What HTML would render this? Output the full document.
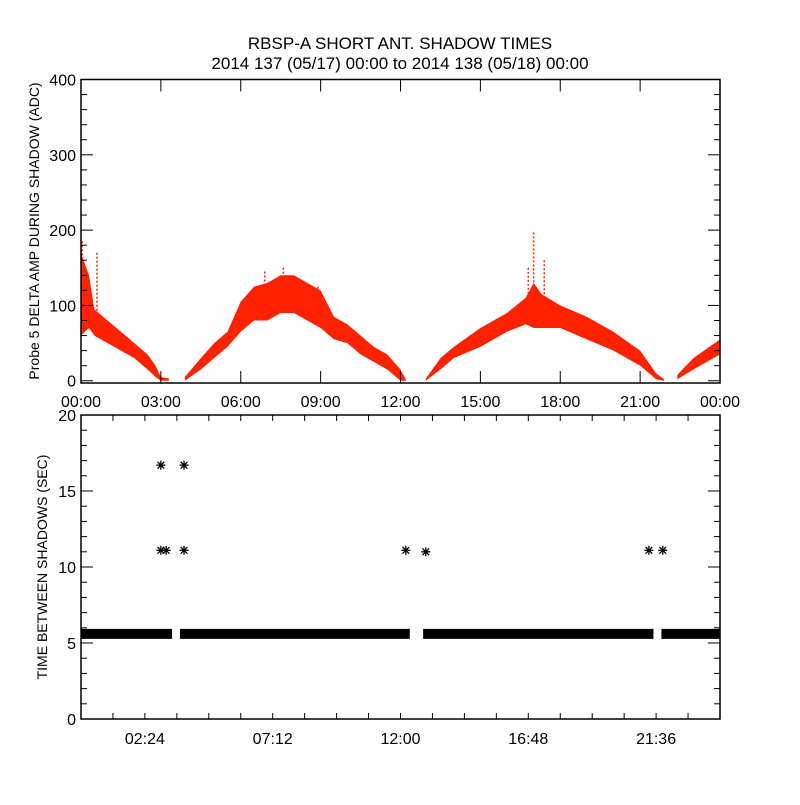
<!DOCTYPE html>
<html><head><meta charset="utf-8"><style>
body{margin:0;background:#fff;}
svg text{font-family:"Liberation Sans",sans-serif;fill:#000;}
</style></head><body>
<svg id="chart" width="800" height="800" viewBox="0 0 800 800" xmlns="http://www.w3.org/2000/svg">
<rect width="800" height="800" fill="#fff"/>
<text x="400" y="49" font-size="17" text-anchor="middle">RBSP-A SHORT ANT. SHADOW TIMES</text>
<text x="400" y="69" font-size="17" text-anchor="middle">2014 137 (05/17) 00:00 to 2014 138 (05/18) 00:00</text>
<g id="topPanel"></g>
<g id="botPanel"></g>
</svg>
<script>
// Top panel: amplitude bands (hours, low, high); null breaks segments
const ampHours = [0,0.3,0.5,1,1.5,2,2.5,2.8,3.0,3.3,null,3.9,4.5,5,5.5,6,6.5,7,7.5,8,8.5,9,9.5,10,10.5,11,11.5,12,12.2,null,12.95,13.5,14,15,16,16.7,17,17.3,18,19,20,21,21.6,21.9,null,22.4,23,24];
const ampLow  = [60,70,60,50,40,30,15,5,0,0,null,0,15,30,45,65,80,80,90,90,80,70,55,50,35,25,15,0,0,null,0,15,30,45,65,75,70,70,70,55,40,20,2,0,null,2,15,35];
const ampHigh = [170,140,95,80,65,50,35,20,5,3,null,5,30,50,65,105,125,130,140,140,130,120,85,75,60,45,35,15,2,null,3,30,45,70,90,110,130,115,100,85,65,40,10,2,null,8,30,55];
const spikeHours = [0.05,0.6,6.9,7.6,8.9,16.8,17.0,17.4];
const spikeValues = [185,170,145,150,125,150,197,160];
const topXTicks = ["00:00","03:00","06:00","09:00","12:00","15:00","18:00","21:00","00:00"];
const topYTicks = [0,100,200,300,400];
// Bottom panel
const bandGapsStart = [3.42,12.35,21.5];
const bandGapsEnd = [3.72,12.85,21.8];
const bandValue = 5.6;
const outlierHours = [3.0,3.0,3.2,3.87,3.87,12.2,12.95,21.33,21.85];
const outlierValues = [16.7,11.1,11.1,16.7,11.1,11.1,11.0,11.1,11.1];
const botXTicks = ["02:24","07:12","12:00","16:48","21:36"];
const botYTicks = [0,5,10,15,20];

const NS="http://www.w3.org/2000/svg";
function mk(p,t,a){const e=document.createElementNS(NS,t);for(const k in a)e.setAttribute(k,a[k]);p.appendChild(e);return e;}
const X0=81,X1=720;
const xs=h=>X0+(X1-X0)*h/24;
// top
const T0=79.5,T1=383, tMin=-3,tMax=400;
const ty=v=>T1-(v-tMin)/(tMax-tMin)*(T1-T0);
const topG=document.getElementById('topPanel');
let segs=[],cur=[];
for(let i=0;i<ampHours.length;i++){if(ampHours[i]===null){segs.push(cur);cur=[];}else cur.push(i);}
segs.push(cur);
segs.forEach((s,k)=>{
  const up=s.map(i=>xs(ampHours[i])+','+ty(ampHigh[i]));
  const dn=s.slice().reverse().map(i=>xs(ampHours[i])+','+ty(ampLow[i]));
  const p=mk(topG,'polygon',{points:up.concat(dn).join(' '),fill:'#ff2200'});
  
  
});
spikeHours.forEach((h,i)=>{
  const l=mk(topG,'line',{x1:xs(h),x2:xs(h),y1:ty(spikeValues[i]),y2:ty(90),stroke:'#ff2200','stroke-width':1.5,'stroke-dasharray':'2 2'});
  
  
});
const tb=mk(topG,'rect',{x:X0,y:T0,width:X1-X0,height:T1-T0,fill:'none',stroke:'#000','stroke-width':1.5});


for(let v=0;v<=400;v+=20){const L=v%100===0?12:6;
  mk(topG,'line',{x1:X0,x2:X0+L,y1:ty(v),y2:ty(v),stroke:'#000'});
  mk(topG,'line',{x1:X1,x2:X1-L,y1:ty(v),y2:ty(v),stroke:'#000'});}
topYTicks.forEach(v=>{const t=mk(topG,'text',{x:76,y:ty(v)+6,'font-size':16,'text-anchor':'end'});t.textContent=v;
  
  });
topXTicks.forEach((s,i)=>{const x=xs(i*3);
  mk(topG,'line',{x1:x,x2:x,y1:T1,y2:T1-12,stroke:'#000'});
  mk(topG,'line',{x1:x,x2:x,y1:T0,y2:T0+12,stroke:'#000'});
  const t=mk(topG,'text',{x:x,y:407,'font-size':16,'text-anchor':'middle'});t.textContent=s;
  
  });
const yl=mk(topG,'text',{x:0,y:0,'font-size':14,'text-anchor':'middle',transform:'translate(39,231) rotate(-90)'});
yl.textContent='Probe 5 DELTA AMP DURING SHADOW (ADC)';


// bottom
const B0=415,B1=719;
const by=v=>B1-v/20*(B1-B0);
const botG=document.getElementById('botPanel');
let starts=[0].concat(bandGapsEnd), ends=bandGapsStart.concat([24]);
starts.forEach((s,i)=>{
  const r=mk(botG,'rect',{x:xs(s),y:by(bandValue)-5,width:xs(ends[i])-xs(s),height:10,fill:'#000'});
  
  
});
outlierHours.forEach((h,i)=>{
  const cx=xs(h), cy=by(outlierValues[i]), r=4.5;
  const g=mk(botG,'g',{stroke:'#000','stroke-width':1.3});
  
  
  mk(g,'line',{x1:cx-r,x2:cx+r,y1:cy,y2:cy});
  mk(g,'line',{x1:cx,x2:cx,y1:cy-r,y2:cy+r});
  mk(g,'line',{x1:cx-r*0.75,x2:cx+r*0.75,y1:cy-r*0.75,y2:cy+r*0.75});
  mk(g,'line',{x1:cx-r*0.75,x2:cx+r*0.75,y1:cy+r*0.75,y2:cy-r*0.75});
});
const bb=mk(botG,'rect',{x:X0,y:B0,width:X1-X0,height:B1-B0,fill:'none',stroke:'#000','stroke-width':1.5});


for(let v=0;v<=20;v++){const L=v%5===0?12:6;
  mk(botG,'line',{x1:X0,x2:X0+L,y1:by(v),y2:by(v),stroke:'#000'});
  mk(botG,'line',{x1:X1,x2:X1-L,y1:by(v),y2:by(v),stroke:'#000'});}
for(let i=0;i<=20;i++){const x=xs(i*1.2);
  mk(botG,'line',{x1:x,x2:x,y1:B1,y2:B1-6,stroke:'#000'});
  mk(botG,'line',{x1:x,x2:x,y1:B0,y2:B0+6,stroke:'#000'});}
botYTicks.forEach(v=>{const t=mk(botG,'text',{x:76,y:by(v)+6,'font-size':16,'text-anchor':'end'});t.textContent=v;
  
  });
botXTicks.forEach((s,i)=>{const t=mk(botG,'text',{x:xs(2.4+4.8*i),y:744,'font-size':16,'text-anchor':'middle'});t.textContent=s;
  
  });
const yl2=mk(botG,'text',{x:0,y:0,'font-size':14,'text-anchor':'middle',transform:'translate(47,567) rotate(-90)'});
yl2.textContent='TIME BETWEEN SHADOWS (SEC)';


</script>
</body></html>
